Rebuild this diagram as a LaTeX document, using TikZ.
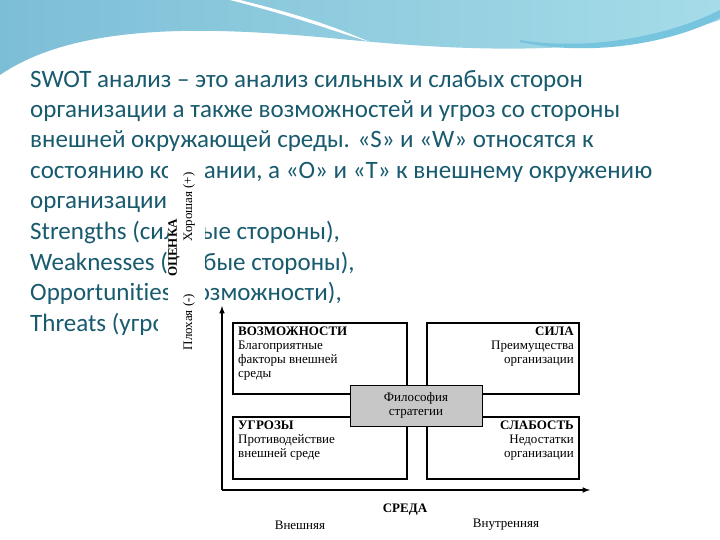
\documentclass[tikz,border=0pt]{standalone}
\usepackage{fontspec}
\setmainfont[Ligatures=NoCommon]{Carlito}
\newfontfamily\serif{Liberation Serif}
\begin{document}
\begin{tikzpicture}[x=1pt,y=-1pt,
  txt/.style={anchor=base west,inner sep=0,font=\fontsize{25}{30}\selectfont,text=tealtext},
  box/.style={draw,line width=1.2pt,fill=white},
  dt/.style={inner sep=0,font=\serif\fontsize{13}{14}\selectfont,align=left}]
\definecolor{tealtext}{RGB}{24,90,110}
\definecolor{wave1}{RGB}{125,190,215}
\definecolor{wave2}{RGB}{165,220,232}
\definecolor{wave3}{RGB}{60,170,210}
\useasboundingbox (0,0) rectangle (720,540);
\fill[white] (0,0) rectangle (720,540);
% background waves
\shade[left color=wave1,right color=wave2] (0,0) -- (720,0) -- (720,20) .. controls (600,60) and (450,50) .. (330,38)
  .. controls (220,28) and (80,20) .. (0,75) -- cycle;
\fill[wave3!70] (520,40) .. controls (580,50) and (660,40) .. (720,10) -- (720,18) .. controls (660,48) and (580,55) .. (520,42) -- cycle;
\fill[white] (240,0) .. controls (300,15) and (330,25) .. (370,42) .. controls (330,30) and (300,18) .. (230,0) -- cycle;
% text
\node[txt] (l1) at (30,88) {SWOT анализ – это анализ сильных и слабых сторон};
\node[txt] (l2) at (30,118) {организации а также возможностей и угроз со стороны};
\node[txt] (l3) at (30,148) {внешней окружающей среды. «S» и «W» относятся к};
\node[txt] (l4) at (30,179) {состоянию компании, а «O» и «T» к внешнему окружению};
\node[txt] (l5) at (30,209) {организации};
\node[txt] (l6) at (30,240) {Strengths (сильные стороны),};
\node[txt] (l7) at (30,270) {Weaknesses (слабые стороны),};
\node[txt] (l8) at (30,300) {Opportunities (возможности),};
\node[txt] (l9) at (30,331) {Threats (угрозы)};
% image white parts
\fill[white] (168,160) rectangle (205,355);
\fill[white] (207,303) rectangle (592,540);
\fill[white] (158,303) rectangle (207,345);
% vertical labels
\node[dt,rotate=90,font=\serif\bfseries\fontsize{13}{14}\selectfont] (oc) at (174,248) {ОЦЕНКА};
\node[dt,rotate=90] (bad) at (189,322) {Плохая (-)};
\node[dt,rotate=90] (good) at (189,207) {Хорошая (+)};
% axes
\coordinate (o) at (222,490);
\coordinate (ytop) at (222,306);
\coordinate (xend) at (590,490);
\draw[line width=1.5pt,-latex] (o) -- (ytop);
\draw[line width=1.5pt,-latex] (o) -- (xend);
% boxes
\draw[box] (233,323) rectangle (407,394);
\draw[box] (427,323) rectangle (579,394);
\draw[box] (233,417) rectangle (407,479);
\draw[box] (427,417) rectangle (579,479);
\draw[line width=1pt,fill=black!22] (350,385) rectangle (482,426);
\node[dt,align=center] (ph) at (416,405.5) {Философия\\стратегии};
\node[dt,anchor=north west] (op) at (238,327) {\textbf{ВОЗМОЖНОСТИ}\\Благоприятные\\факторы внешней\\среды};
\node[dt,anchor=north east,align=right] (st) at (574,327) {\textbf{СИЛА}\\Преимущества\\организации};
\node[dt,anchor=north west] (th) at (238,421) {\textbf{УГРОЗЫ}\\Противодействие\\внешней среде};
\node[dt,anchor=north east,align=right] (wk) at (574,421) {\textbf{СЛАБОСТЬ}\\Недостатки\\организации};
\node[dt,font=\serif\bfseries\fontsize{13}{14}\selectfont] (env) at (405,510) {СРЕДА};
\node[dt] (ext) at (300,525) {Внешняя};
\node[dt] (int) at (506,525) {Внутренняя};
\end{tikzpicture}
\end{document}
